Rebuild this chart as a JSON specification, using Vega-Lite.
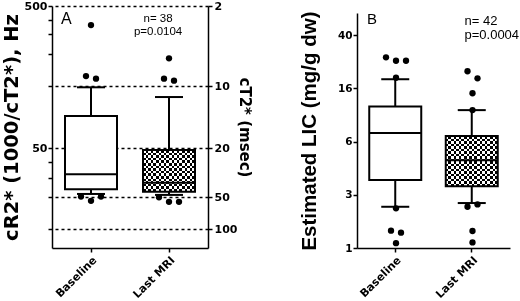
{
  "$schema": "https://vega.github.io/schema/vega-lite/v6.json",
  "padding": {"left": 1, "top": 0, "right": 0, "bottom": 0},
  "spacing": 47,
  "config": {
    "view": {"stroke": null},
    "axis": {"domainColor": "black", "tickColor": "black", "labelColor": "black", "titleColor": "black", "domainWidth": 1.5, "tickWidth": 1.5, "tickSize": 4, "labelFont": "DejaVu Sans", "labelFontWeight": "bold", "titleFont": "DejaVu Sans", "titleFontWeight": "bold", "grid": false},
    "text": {"font": "Liberation Sans", "color": "black"}
  },
  "datasets": {
    "boxA": [
      {"grp": "Baseline", "lo": 21.6, "q1": 24.05, "med": 32.3, "q3": 75.8, "hi": 98.95},
      {"grp": "Last MRI", "lo": 21.1, "q1": 22.8, "med": 27.5, "q3": 48.6, "hi": 91.1}
    ],
    "ptsA": [
      {"grp": "Baseline", "v": 364, "slot": 0},
      {"grp": "Baseline", "v": 131, "slot": -1},
      {"grp": "Baseline", "v": 123, "slot": 1},
      {"grp": "Baseline", "v": 20.2, "slot": -2},
      {"grp": "Baseline", "v": 18.8, "slot": 0},
      {"grp": "Baseline", "v": 20.2, "slot": 2},
      {"grp": "Last MRI", "v": 186.6, "slot": 0},
      {"grp": "Last MRI", "v": 123, "slot": -1},
      {"grp": "Last MRI", "v": 116.6, "slot": 1},
      {"grp": "Last MRI", "v": 19.9, "slot": -2},
      {"grp": "Last MRI", "v": 18.5, "slot": 0},
      {"grp": "Last MRI", "v": 18.5, "slot": 2}
    ],
    "boxB": [
      {"grp": "Baseline", "lo": 2.55, "q1": 3.56, "med": 7.3, "q3": 11.9, "hi": 19.1},
      {"grp": "Last MRI", "lo": 2.69, "q1": 3.32, "med": 4.6, "q3": 6.84, "hi": 11.1}
    ],
    "ptsB": [
      {"grp": "Baseline", "v": 27.5, "slot": -2},
      {"grp": "Baseline", "v": 25.6, "slot": 0},
      {"grp": "Baseline", "v": 25.6, "slot": 2},
      {"grp": "Baseline", "v": 19.6, "slot": 0},
      {"grp": "Baseline", "v": 2.49, "slot": 0},
      {"grp": "Baseline", "v": 1.65, "slot": -1},
      {"grp": "Baseline", "v": 1.575, "slot": 1},
      {"grp": "Baseline", "v": 1.18, "slot": 0},
      {"grp": "Last MRI", "v": 21.8, "slot": -1},
      {"grp": "Last MRI", "v": 19.4, "slot": 1},
      {"grp": "Last MRI", "v": 14.9, "slot": 0},
      {"grp": "Last MRI", "v": 11.1, "slot": 0},
      {"grp": "Last MRI", "v": 2.55, "slot": -1},
      {"grp": "Last MRI", "v": 2.64, "slot": 1},
      {"grp": "Last MRI", "v": 1.64, "slot": 0},
      {"grp": "Last MRI", "v": 1.21, "slot": 0}
    ],
    "labA": [{"grp": "Baseline", "t": "A"}],
    "labA2": [{"grp": "Last MRI", "n": "n= 38", "p": "p=0.0104"}],
    "labB": [{"grp": "Baseline", "t": "B"}],
    "labB2": [{"grp": "Last MRI", "n": "n= 42", "p": "p=0.0004"}]
  },
  "hconcat": [
    {
      "width": 156,
      "height": 242,
      "resolve": {"axis": {"y": "independent"}},
      "layer": [
        {
          "data": {"name": "boxA"},
          "mark": {"type": "rule", "strokeWidth": 2, "color": "black"},
          "encoding": {
            "x": {"field": "grp", "type": "nominal", "scale": {"type": "band", "domain": ["Baseline", "Last MRI"], "paddingInner": 0, "paddingOuter": 0}, "axis": {"title": null, "labelAngle": -45, "labelFontSize": 11, "labelPadding": 2}},
            "y": {"field": "lo", "type": "quantitative", "scale": {"type": "linear", "domain": [5, 10, 20, 30, 40, 50, 100, 200, 300, 400, 500], "range": [242, 223, 191, 172, 156, 142, 80, 48, 28, 14, 0], "nice": false, "zero": false}, "axis": {"orient": "left", "values": [500, 400, 300, 200, 100, 50, 40, 30, 20, 10], "labelExpr": "datum.value == 500 || datum.value == 50 ? datum.label : ''", "labelFontSize": 11, "labelPadding": 1, "title": "cR2* (1000/cT2*), Hz", "titleFontSize": 19.5, "titlePadding": 3}},
            "y2": {"field": "hi"}
          }
        },
        {
          "data": {"name": "boxA"},
          "mark": {"type": "bar", "size": 52, "fill": "white"},
          "encoding": {
            "x": {"field": "grp", "type": "nominal"},
            "y": {"field": "q1", "type": "quantitative", "axis": null},
            "y2": {"field": "q3"}
          }
        },
        {
          "data": {"name": "boxA"},
          "transform": [{"filter": "datum.grp == 'Last MRI'"}],
          "mark": {"type": "bar", "size": 52, "fill": {"gradient": "linear", "x1": 0, "y1": 0, "x2": 1, "y2": 0, "stops": [
            {"offset": 0, "color": "#000"}, {"offset": 0.05, "color": "#000"}, {"offset": 0.05, "color": "#fff"}, {"offset": 0.1, "color": "#fff"},
            {"offset": 0.1, "color": "#000"}, {"offset": 0.15, "color": "#000"}, {"offset": 0.15, "color": "#fff"}, {"offset": 0.2, "color": "#fff"},
            {"offset": 0.2, "color": "#000"}, {"offset": 0.25, "color": "#000"}, {"offset": 0.25, "color": "#fff"}, {"offset": 0.3, "color": "#fff"},
            {"offset": 0.3, "color": "#000"}, {"offset": 0.35, "color": "#000"}, {"offset": 0.35, "color": "#fff"}, {"offset": 0.4, "color": "#fff"},
            {"offset": 0.4, "color": "#000"}, {"offset": 0.45, "color": "#000"}, {"offset": 0.45, "color": "#fff"}, {"offset": 0.5, "color": "#fff"},
            {"offset": 0.5, "color": "#000"}, {"offset": 0.55, "color": "#000"}, {"offset": 0.55, "color": "#fff"}, {"offset": 0.6, "color": "#fff"},
            {"offset": 0.6, "color": "#000"}, {"offset": 0.65, "color": "#000"}, {"offset": 0.65, "color": "#fff"}, {"offset": 0.7, "color": "#fff"},
            {"offset": 0.7, "color": "#000"}, {"offset": 0.75, "color": "#000"}, {"offset": 0.75, "color": "#fff"}, {"offset": 0.8, "color": "#fff"},
            {"offset": 0.8, "color": "#000"}, {"offset": 0.85, "color": "#000"}, {"offset": 0.85, "color": "#fff"}, {"offset": 0.9, "color": "#fff"},
            {"offset": 0.9, "color": "#000"}, {"offset": 0.95, "color": "#000"}, {"offset": 0.95, "color": "#fff"}, {"offset": 1, "color": "#fff"}
          ]}},
          "encoding": {
            "x": {"field": "grp", "type": "nominal"},
            "y": {"field": "q1", "type": "quantitative", "axis": null},
            "y2": {"field": "q3"}
          }
        },
        {
          "data": {"name": "boxA"},
          "transform": [{"filter": "datum.grp == 'Last MRI'"}],
          "mark": {"type": "bar", "size": 52, "blend": "difference", "fill": {"gradient": "linear", "x1": 0, "y1": 0, "x2": 0, "y2": 1, "stops": [
            {"offset": 0, "color": "#fff"}, {"offset": 0.0625, "color": "#fff"}, {"offset": 0.0625, "color": "#000"}, {"offset": 0.125, "color": "#000"},
            {"offset": 0.125, "color": "#fff"}, {"offset": 0.1875, "color": "#fff"}, {"offset": 0.1875, "color": "#000"}, {"offset": 0.25, "color": "#000"},
            {"offset": 0.25, "color": "#fff"}, {"offset": 0.3125, "color": "#fff"}, {"offset": 0.3125, "color": "#000"}, {"offset": 0.375, "color": "#000"},
            {"offset": 0.375, "color": "#fff"}, {"offset": 0.4375, "color": "#fff"}, {"offset": 0.4375, "color": "#000"}, {"offset": 0.5, "color": "#000"},
            {"offset": 0.5, "color": "#fff"}, {"offset": 0.5625, "color": "#fff"}, {"offset": 0.5625, "color": "#000"}, {"offset": 0.625, "color": "#000"},
            {"offset": 0.625, "color": "#fff"}, {"offset": 0.6875, "color": "#fff"}, {"offset": 0.6875, "color": "#000"}, {"offset": 0.75, "color": "#000"},
            {"offset": 0.75, "color": "#fff"}, {"offset": 0.8125, "color": "#fff"}, {"offset": 0.8125, "color": "#000"}, {"offset": 0.875, "color": "#000"},
            {"offset": 0.875, "color": "#fff"}, {"offset": 0.9375, "color": "#fff"}, {"offset": 0.9375, "color": "#000"}, {"offset": 1, "color": "#000"}
          ]}},
          "encoding": {
            "x": {"field": "grp", "type": "nominal"},
            "y": {"field": "q1", "type": "quantitative", "axis": null},
            "y2": {"field": "q3"}
          }
        },
        {
          "data": {"name": "boxA"},
          "mark": {"type": "tick", "size": 52, "thickness": 2, "color": "black", "opacity": 1},
          "encoding": {
            "x": {"field": "grp", "type": "nominal"},
            "y": {"field": "med", "type": "quantitative", "axis": null}
          }
        },
        {
          "data": {"name": "boxA"},
          "mark": {"type": "bar", "size": 52, "fillOpacity": 0, "stroke": "black", "strokeWidth": 2},
          "encoding": {
            "x": {"field": "grp", "type": "nominal"},
            "y": {"field": "q1", "type": "quantitative", "axis": null},
            "y2": {"field": "q3"}
          }
        },
        {
          "data": {"name": "boxA"},
          "mark": {"type": "tick", "size": 28, "thickness": 2, "color": "black", "opacity": 1},
          "encoding": {
            "x": {"field": "grp", "type": "nominal"},
            "y": {"field": "lo", "type": "quantitative", "axis": null}
          }
        },
        {
          "data": {"name": "boxA"},
          "mark": {"type": "tick", "size": 28, "thickness": 2, "color": "black", "opacity": 1},
          "encoding": {
            "x": {"field": "grp", "type": "nominal"},
            "y": {"field": "hi", "type": "quantitative", "axis": null}
          }
        },
        {
          "data": {"name": "ptsA"},
          "mark": {"type": "circle", "size": 40, "color": "black", "opacity": 1},
          "encoding": {
            "x": {"field": "grp", "type": "nominal"},
            "xOffset": {"field": "slot", "type": "ordinal", "scale": {"domain": [-2, -1, 0, 1, 2], "range": [26.5, 51.5]}},
            "y": {"field": "v", "type": "quantitative", "axis": {"orient": "right", "values": [500, 100, 50, 20, 10], "labelExpr": "format(1000 / datum.value, 'd')", "labelFontSize": 11, "labelPadding": 2, "grid": true, "gridColor": "black", "gridDash": [3, 3], "gridWidth": 1.3, "gridOpacity": 1, "title": "cT2* (msec)", "titleFontSize": 15, "titlePadding": 0}}
          }
        },
        {
          "data": {"name": "labA"},
          "mark": {"type": "text", "fontSize": 16, "align": "left", "baseline": "alphabetic", "dx": 9},
          "encoding": {
            "x": {"field": "grp", "type": "nominal", "bandPosition": 0},
            "y": {"datum": 371, "type": "quantitative", "axis": null},
            "text": {"field": "t"}
          }
        },
        {
          "data": {"name": "labA2"},
          "mark": {"type": "text", "fontSize": 11.5, "align": "center", "baseline": "alphabetic"},
          "encoding": {
            "x": {"field": "grp", "type": "nominal", "bandPosition": 0.36},
            "y": {"datum": 385.7, "type": "quantitative", "axis": null},
            "text": {"field": "n"}
          }
        },
        {
          "data": {"name": "labA2"},
          "mark": {"type": "text", "fontSize": 11.5, "align": "center", "baseline": "alphabetic"},
          "encoding": {
            "x": {"field": "grp", "type": "nominal", "bandPosition": 0.36},
            "y": {"datum": 295, "type": "quantitative", "axis": null},
            "text": {"field": "p"}
          }
        }
      ]
    },
    {
      "width": 153,
      "height": 242,
      "layer": [
        {
          "data": {"name": "boxB"},
          "mark": {"type": "rule", "strokeWidth": 2, "color": "black"},
          "encoding": {
            "x": {"field": "grp", "type": "nominal", "scale": {"type": "band", "domain": ["Baseline", "Last MRI"], "paddingInner": 0, "paddingOuter": 0}, "axis": {"title": null, "labelAngle": -45, "labelFontSize": 11, "labelPadding": 2}},
            "y": {"field": "lo", "type": "quantitative", "scale": {"type": "linear", "domain": [1, 2, 3, 4, 6, 10, 16, 25, 40, 60], "range": [242, 215.4, 188.8, 162.2, 135.6, 109, 82.4, 55.8, 29.2, 7], "nice": false, "zero": false}, "axis": {"values": [1, 2, 3, 4, 6, 10, 16, 25, 40], "labelFontSize": 10.5, "labelPadding": 1, "title": "Estimated LIC (mg/g dw)", "titleFont": "Liberation Sans", "titleFontSize": 20.5, "titlePadding": 18}},
            "y2": {"field": "hi"}
          }
        },
        {
          "data": {"name": "boxB"},
          "mark": {"type": "bar", "size": 52, "fill": "white"},
          "encoding": {
            "x": {"field": "grp", "type": "nominal"},
            "y": {"field": "q1", "type": "quantitative"},
            "y2": {"field": "q3"}
          }
        },
        {
          "data": {"name": "boxB"},
          "transform": [{"filter": "datum.grp == 'Last MRI'"}],
          "mark": {"type": "bar", "size": 52, "fill": {"gradient": "linear", "x1": 0, "y1": 0, "x2": 1, "y2": 0, "stops": [
            {"offset": 0, "color": "#000"}, {"offset": 0.05, "color": "#000"}, {"offset": 0.05, "color": "#fff"}, {"offset": 0.1, "color": "#fff"},
            {"offset": 0.1, "color": "#000"}, {"offset": 0.15, "color": "#000"}, {"offset": 0.15, "color": "#fff"}, {"offset": 0.2, "color": "#fff"},
            {"offset": 0.2, "color": "#000"}, {"offset": 0.25, "color": "#000"}, {"offset": 0.25, "color": "#fff"}, {"offset": 0.3, "color": "#fff"},
            {"offset": 0.3, "color": "#000"}, {"offset": 0.35, "color": "#000"}, {"offset": 0.35, "color": "#fff"}, {"offset": 0.4, "color": "#fff"},
            {"offset": 0.4, "color": "#000"}, {"offset": 0.45, "color": "#000"}, {"offset": 0.45, "color": "#fff"}, {"offset": 0.5, "color": "#fff"},
            {"offset": 0.5, "color": "#000"}, {"offset": 0.55, "color": "#000"}, {"offset": 0.55, "color": "#fff"}, {"offset": 0.6, "color": "#fff"},
            {"offset": 0.6, "color": "#000"}, {"offset": 0.65, "color": "#000"}, {"offset": 0.65, "color": "#fff"}, {"offset": 0.7, "color": "#fff"},
            {"offset": 0.7, "color": "#000"}, {"offset": 0.75, "color": "#000"}, {"offset": 0.75, "color": "#fff"}, {"offset": 0.8, "color": "#fff"},
            {"offset": 0.8, "color": "#000"}, {"offset": 0.85, "color": "#000"}, {"offset": 0.85, "color": "#fff"}, {"offset": 0.9, "color": "#fff"},
            {"offset": 0.9, "color": "#000"}, {"offset": 0.95, "color": "#000"}, {"offset": 0.95, "color": "#fff"}, {"offset": 1, "color": "#fff"}
          ]}},
          "encoding": {
            "x": {"field": "grp", "type": "nominal"},
            "y": {"field": "q1", "type": "quantitative"},
            "y2": {"field": "q3"}
          }
        },
        {
          "data": {"name": "boxB"},
          "transform": [{"filter": "datum.grp == 'Last MRI'"}],
          "mark": {"type": "bar", "size": 52, "blend": "difference", "fill": {"gradient": "linear", "x1": 0, "y1": 0, "x2": 0, "y2": 1, "stops": [
            {"offset": 0, "color": "#fff"}, {"offset": 0.05, "color": "#fff"}, {"offset": 0.05, "color": "#000"}, {"offset": 0.1, "color": "#000"},
            {"offset": 0.1, "color": "#fff"}, {"offset": 0.15, "color": "#fff"}, {"offset": 0.15, "color": "#000"}, {"offset": 0.2, "color": "#000"},
            {"offset": 0.2, "color": "#fff"}, {"offset": 0.25, "color": "#fff"}, {"offset": 0.25, "color": "#000"}, {"offset": 0.3, "color": "#000"},
            {"offset": 0.3, "color": "#fff"}, {"offset": 0.35, "color": "#fff"}, {"offset": 0.35, "color": "#000"}, {"offset": 0.4, "color": "#000"},
            {"offset": 0.4, "color": "#fff"}, {"offset": 0.45, "color": "#fff"}, {"offset": 0.45, "color": "#000"}, {"offset": 0.5, "color": "#000"},
            {"offset": 0.5, "color": "#fff"}, {"offset": 0.55, "color": "#fff"}, {"offset": 0.55, "color": "#000"}, {"offset": 0.6, "color": "#000"},
            {"offset": 0.6, "color": "#fff"}, {"offset": 0.65, "color": "#fff"}, {"offset": 0.65, "color": "#000"}, {"offset": 0.7, "color": "#000"},
            {"offset": 0.7, "color": "#fff"}, {"offset": 0.75, "color": "#fff"}, {"offset": 0.75, "color": "#000"}, {"offset": 0.8, "color": "#000"},
            {"offset": 0.8, "color": "#fff"}, {"offset": 0.85, "color": "#fff"}, {"offset": 0.85, "color": "#000"}, {"offset": 0.9, "color": "#000"},
            {"offset": 0.9, "color": "#fff"}, {"offset": 0.95, "color": "#fff"}, {"offset": 0.95, "color": "#000"}, {"offset": 1, "color": "#000"}
          ]}},
          "encoding": {
            "x": {"field": "grp", "type": "nominal"},
            "y": {"field": "q1", "type": "quantitative"},
            "y2": {"field": "q3"}
          }
        },
        {
          "data": {"name": "boxB"},
          "mark": {"type": "tick", "size": 52, "thickness": 2, "color": "black", "opacity": 1},
          "encoding": {
            "x": {"field": "grp", "type": "nominal"},
            "y": {"field": "med", "type": "quantitative"}
          }
        },
        {
          "data": {"name": "boxB"},
          "mark": {"type": "bar", "size": 52, "fillOpacity": 0, "stroke": "black", "strokeWidth": 2},
          "encoding": {
            "x": {"field": "grp", "type": "nominal"},
            "y": {"field": "q1", "type": "quantitative"},
            "y2": {"field": "q3"}
          }
        },
        {
          "data": {"name": "boxB"},
          "mark": {"type": "tick", "size": 28, "thickness": 2, "color": "black", "opacity": 1},
          "encoding": {
            "x": {"field": "grp", "type": "nominal"},
            "y": {"field": "lo", "type": "quantitative"}
          }
        },
        {
          "data": {"name": "boxB"},
          "mark": {"type": "tick", "size": 28, "thickness": 2, "color": "black", "opacity": 1},
          "encoding": {
            "x": {"field": "grp", "type": "nominal"},
            "y": {"field": "hi", "type": "quantitative"}
          }
        },
        {
          "data": {"name": "ptsB"},
          "mark": {"type": "circle", "size": 40, "color": "black", "opacity": 1},
          "encoding": {
            "x": {"field": "grp", "type": "nominal"},
            "xOffset": {"field": "slot", "type": "ordinal", "scale": {"domain": [-2, -1, 0, 1, 2], "range": [25.75, 50.75]}},
            "y": {"field": "v", "type": "quantitative"}
          }
        },
        {
          "data": {"name": "labB"},
          "mark": {"type": "text", "fontSize": 15, "align": "left", "baseline": "alphabetic", "dx": 10},
          "encoding": {
            "x": {"field": "grp", "type": "nominal", "bandPosition": 0},
            "y": {"datum": 50.1, "type": "quantitative"},
            "text": {"field": "t"}
          }
        },
        {
          "data": {"name": "labB2"},
          "mark": {"type": "text", "fontSize": 13, "align": "left", "baseline": "alphabetic"},
          "encoding": {
            "x": {"field": "grp", "type": "nominal", "bandPosition": 0.405},
            "y": {"datum": 49.2, "type": "quantitative"},
            "text": {"field": "n"}
          }
        },
        {
          "data": {"name": "labB2"},
          "mark": {"type": "text", "fontSize": 13, "align": "left", "baseline": "alphabetic"},
          "encoding": {
            "x": {"field": "grp", "type": "nominal", "bandPosition": 0.405},
            "y": {"datum": 38.1, "type": "quantitative"},
            "text": {"field": "p"}
          }
        }
      ]
    }
  ]
}
